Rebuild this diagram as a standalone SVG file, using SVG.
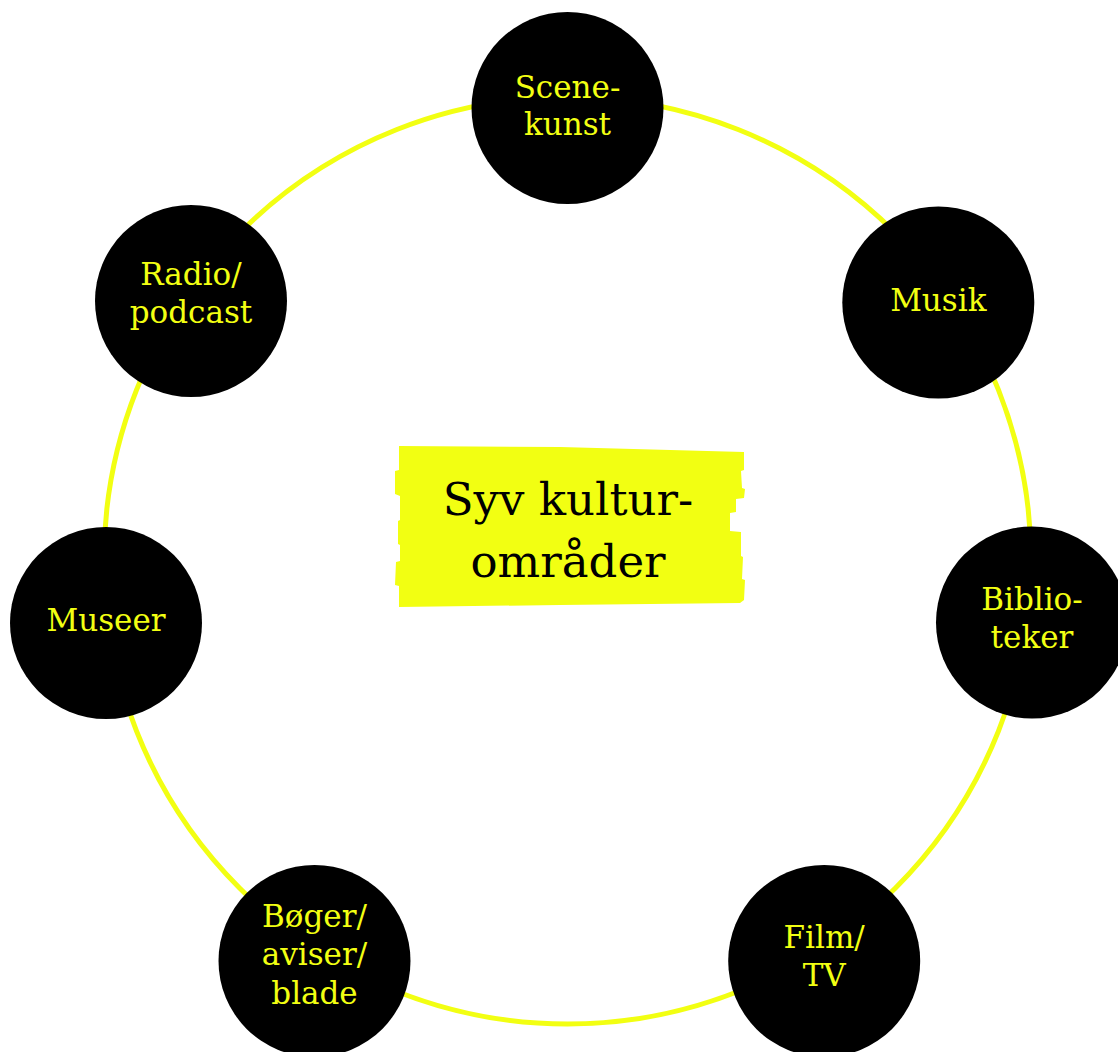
<svg xmlns="http://www.w3.org/2000/svg" width="1118" height="1052" viewBox="0 0 1118 1052">
<style>
.node{fill:#000}
.lbl{font-family:"DejaVu Serif","Liberation Serif",serif;font-size:31px;fill:#f2ff12;text-anchor:middle}
.ring{fill:none;stroke:#f2ff12;stroke-width:5}
.title{font-family:"DejaVu Serif","Liberation Serif",serif;font-size:45px;fill:#000;text-anchor:middle}
</style>
<rect width="1118" height="1052" fill="#fff"/>
<g id="connectors">
<circle class="ring" cx="567.5" cy="560.5" r="463.5"/>
</g>
<g id="center">
<path fill="#f2ff12" d="M399,446 L560,447 L744,452 L744,470 L741,471 L742,488 L745,489 L744,498 L736,499 L736,512 L730,513 L730,531 L741,532 L741,556 L743,557 L742,579 L745,580 L744,600 L740,603 L560,605 L399,607 L399,586 L395,585 L396,562 L400,561 L400,545 L398,544 L398,521 L400,520 L400,496 L395,494 L395,471 L399,470 Z"/>
<text class="title" x="568" y="515">Syv kultur-</text>
<text class="title" x="568" y="577">områder</text>
</g>
<g id="scenekunst">
<circle class="node" cx="567.5" cy="108" r="96"/>
<text class="lbl" x="567.5" y="98">Scene-</text>
<text class="lbl" x="567.5" y="135">kunst</text>
</g>
<g id="musik">
<circle class="node" cx="938.3" cy="302.5" r="96"/>
<text class="lbl" x="938.3" y="311">Musik</text>
</g>
<g id="biblioteker">
<circle class="node" cx="1032" cy="622.5" r="96"/>
<text class="lbl" x="1032" y="610">Biblio-</text>
<text class="lbl" x="1032" y="648">teker</text>
</g>
<g id="filmtv">
<circle class="node" cx="824.2" cy="961" r="96"/>
<text class="lbl" x="824.2" y="948">Film/</text>
<text class="lbl" x="824.2" y="986">TV</text>
</g>
<g id="boger">
<circle class="node" cx="314.5" cy="961" r="96"/>
<text class="lbl" x="314.5" y="927">Bøger/</text>
<text class="lbl" x="314.5" y="965">aviser/</text>
<text class="lbl" x="314.5" y="1004">blade</text>
</g>
<g id="museer">
<circle class="node" cx="106" cy="623" r="96"/>
<text class="lbl" x="106" y="631">Museer</text>
</g>
<g id="radio">
<circle class="node" cx="191" cy="301" r="96"/>
<text class="lbl" x="191" y="285">Radio/</text>
<text class="lbl" x="191" y="323">podcast</text>
</g>
</svg>
